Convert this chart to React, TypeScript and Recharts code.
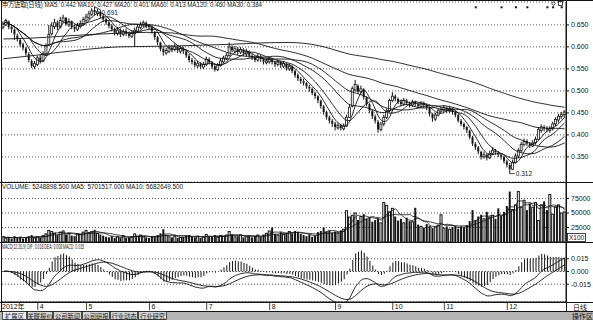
import React from "react";
import { ComposedChart, Bar, Line, XAxis, YAxis, CartesianGrid } from "recharts";

// daily bars, mid-March .. end of December 2012, prices in 1/1000
const opens = [
  645, 650, 658, 646, 640, 626, 616, 606, 597, 584, 568, 555, 560, 576, 568, 584, 604, 630, 646, 656,
  645, 658, 666, 650, 658, 646, 640, 646, 652, 660, 666, 674, 684, 676, 680, 670, 663, 656, 648, 640,
  630, 638, 628, 636, 630, 624, 630, 636, 644, 650, 655, 648, 645, 634, 622, 610, 596, 586, 590, 598,
  594, 600, 590, 596, 590, 580, 570, 566, 557, 562, 554, 560, 572, 565, 556, 548, 558, 566, 574, 580,
  600, 590, 596, 588, 594, 584, 590, 580, 576, 570, 578, 572, 564, 566, 572, 565, 560, 566, 556, 562,
  550, 556, 545, 536, 528, 522, 518, 510, 505, 495, 488, 478, 465, 452, 440, 432, 426, 416, 422, 414,
  420, 440, 465, 502, 512, 498, 504, 485, 470, 455, 442, 430, 412, 425, 440, 455, 478, 488, 482, 476,
  470, 478, 472, 468, 475, 470, 465, 472, 468, 462, 448, 436, 445, 454, 456, 462, 454, 460, 452, 445,
  432, 425, 418, 410, 395, 380, 372, 362, 350, 355, 348, 358, 365, 360, 355, 350, 340, 332, 322, 338,
  352, 364, 378, 386, 380, 375, 382, 390, 410, 418, 416, 410, 414, 425, 434, 442, 446,
];
const highs = [
  658, 664, 660, 650, 642, 630, 620, 610, 600, 588, 572, 568, 580, 582, 590, 608, 650, 656, 664, 660,
  668, 673, 668, 665, 660, 650, 655, 660, 668, 675, 682, 688, 691, 686, 684, 674, 666, 660, 652, 644,
  645, 642, 640, 642, 635, 638, 644, 652, 657, 660, 658, 652, 648, 636, 625, 612, 600, 598, 605, 604,
  608, 603, 602, 600, 594, 584, 575, 570, 568, 565, 566, 578, 576, 568, 560, 563, 574, 580, 586, 610,
  604, 602, 600, 600, 597, 596, 592, 584, 580, 584, 582, 575, 574, 578, 575, 568, 572, 568, 568, 565,
  562, 558, 548, 540, 532, 528, 520, 514, 508, 498, 490, 480, 468, 455, 444, 436, 430, 428, 425, 426,
  446, 470, 510, 525, 515, 512, 506, 488, 472, 458, 446, 434, 430, 446, 460, 482, 497, 492, 485, 480,
  484, 482, 476, 480, 478, 474, 477, 476, 470, 464, 450, 450, 460, 464, 468, 465, 466, 462, 455, 448,
  436, 428, 420, 412, 398, 384, 375, 364, 362, 358, 364, 372, 368, 363, 358, 353, 344, 336, 344, 358,
  370, 384, 392, 390, 384, 388, 396, 418, 424, 422, 420, 420, 430, 440, 448, 452, 456,
];
const lows = [
  640, 647, 640, 632, 616, 612, 600, 592, 580, 565, 552, 550, 556, 562, 565, 580, 602, 626, 640, 638,
  642, 654, 648, 645, 640, 634, 636, 642, 648, 656, 662, 670, 672, 670, 665, 656, 650, 642, 635, 626,
  626, 622, 624, 625, 620, 620, 600, 632, 640, 645, 642, 638, 630, 616, 604, 590, 580, 582, 586, 588,
  590, 586, 585, 584, 575, 565, 560, 553, 552, 550, 550, 556, 560, 550, 544, 545, 555, 563, 570, 578,
  588, 585, 582, 584, 580, 578, 575, 570, 565, 566, 566, 560, 560, 562, 560, 554, 556, 552, 552, 546,
  545, 540, 530, 522, 516, 512, 505, 498, 490, 482, 472, 460, 446, 435, 426, 418, 410, 412, 410, 410,
  418, 438, 462, 498, 494, 492, 480, 465, 450, 436, 426, 405, 408, 420, 436, 452, 474, 476, 470, 465,
  466, 468, 462, 464, 465, 460, 462, 462, 456, 442, 430, 432, 442, 450, 452, 450, 450, 446, 440, 428,
  420, 412, 404, 390, 375, 366, 356, 344, 346, 342, 345, 354, 355, 350, 344, 335, 326, 312, 320, 335,
  348, 360, 374, 375, 370, 372, 378, 388, 405, 408, 406, 405, 410, 420, 428, 436, 440,
];
const closes = [
  652, 660, 645, 640, 628, 618, 605, 598, 585, 570, 556, 562, 575, 568, 584, 602, 628, 648, 655, 645,
  660, 666, 652, 658, 645, 640, 648, 652, 662, 668, 675, 682, 678, 680, 670, 662, 655, 648, 640, 632,
  638, 628, 635, 630, 625, 632, 638, 645, 650, 655, 648, 645, 635, 622, 610, 595, 588, 592, 598, 595,
  600, 592, 596, 590, 580, 570, 565, 558, 562, 555, 560, 572, 565, 555, 548, 558, 568, 575, 580, 600,
  592, 596, 588, 594, 585, 590, 580, 575, 570, 578, 572, 566, 568, 572, 565, 560, 566, 558, 562, 552,
  556, 545, 535, 528, 522, 518, 510, 505, 495, 488, 478, 465, 452, 440, 432, 425, 418, 422, 415, 420,
  440, 462, 505, 515, 498, 505, 485, 470, 455, 442, 432, 412, 425, 440, 455, 478, 488, 482, 475, 470,
  478, 472, 468, 475, 470, 465, 472, 468, 462, 448, 438, 445, 455, 458, 462, 455, 460, 452, 445, 432,
  425, 418, 410, 395, 380, 372, 362, 350, 355, 348, 358, 365, 360, 355, 350, 340, 332, 322, 338, 352,
  365, 378, 385, 380, 375, 382, 390, 412, 418, 415, 412, 415, 425, 435, 442, 446, 452,
];
// volume in thousands (axis shows x100 units)
const volumesK = [
  9, 7, 8, 6, 10, 7, 9, 6, 8, 10, 12, 7, 9, 8, 11, 14, 20, 18, 15, 12,
  17, 19, 13, 15, 11, 10, 14, 13, 17, 20, 16, 18, 21, 15, 13, 11, 9, 8, 10, 7,
  9, 8, 11, 7, 8, 9, 14, 10, 12, 9, 8, 7, 10, 9, 12, 15, 22, 11, 9, 8,
  10, 7, 8, 9, 11, 12, 9, 8, 10, 7, 9, 13, 10, 9, 12, 8, 11, 10, 12, 18,
  13, 9, 10, 12, 8, 9, 11, 8, 10, 12, 9, 13, 15, 19, 25, 14, 12, 17, 13, 16,
  18, 15, 19, 17, 14, 12, 10, 13, 9, 11, 17, 19, 25, 18, 20, 16, 18, 15, 20, 22,
  54, 43, 46, 50, 38, 44, 48, 40, 42, 35, 38, 41, 33, 68, 63, 52, 58, 44, 37, 40,
  33, 42, 36, 35, 59, 30, 27, 25, 31, 28, 24, 26, 29, 47, 24, 27, 22, 26, 28, 23,
  27, 25, 29, 36, 55, 38, 44, 47, 40, 52, 43, 46, 40, 58, 45, 52, 62, 87, 56, 64,
  87, 60, 72, 55, 66, 60, 68, 37, 64, 70, 55, 82, 48, 60, 64, 50, 52,
];
// long averages before their window fills, read every 10 bars (1/1000)
const ma60Early = [618, 620, 624, 628, 631, 633];
const ma120Early = [573, 580, 588, 595, 600, 601, 602, 604, 606, 609, 610, 603];
const markerDays = [165, 174, 179, 183, 190, 192, 195];
const markerLevel = 0.69;

const monthStarts = [0, 12, 29, 51, 71, 93, 116, 136, 154, 176];
const monthLabels = ["2012年", "4", "5", "6", "7", "8", "9", "10", "11", "12"];
const priceTicks = [0.35, 0.4, 0.45, 0.5, 0.55, 0.6, 0.65];
const volTicks = [25000, 50000, 75000];
const macdTicks = [-0.015, 0, 0.015];
const tabs = ["扩展区", "关联报价", "公司新闻", "公司研报", "行业动态", "行业研究"];
const tabW = [25, 26, 29, 28, 28, 29];

const priceTitle = "申万进取(日线) MA5: 0.442 MA10: 0.427 MA20: 0.401 MA60: 0.413 MA120: 0.460 MA30: 0.384";
const volTitle = "VOLUME: 5248898.500 MA5: 5701517.000 MA10: 5682649.500";
const macdTitle = "MACD(12,26,9) DIF: 0.018 DEA: 0.008 MACD: 0.015";

const INK = "#141414";
const FONT = "'Liberation Sans', Arial, 'Noto Sans CJK SC', sans-serif";

function avgBack(arr: number[], n: number, i: number) {
  const s = Math.max(0, i - n + 1);
  let t = 0;
  for (let k = s; k <= i; k++) t += arr[k];
  return t / (i - s + 1);
}
function ema(arr: number[], n: number) {
  const out: number[] = [];
  arr.forEach((v, i) => out.push(i === 0 ? v : (2 * v + (n - 1) * out[i - 1]) / (n + 1)));
  return out;
}

const px = closes.map((v) => v / 1000);
const vol = volumesK.map((v) => v * 1000);
const ema12 = ema(px, 12);
const ema26 = ema(px, 26);
const dif = px.map((_, i) => ema12[i] - ema26[i]);
const dea = ema(dif, 9);
const peakIdx = highs.indexOf(Math.max(...highs));
const lowIdx = lows.indexOf(Math.min(...lows));

const rows = closes.map((c, i) => ({
  i,
  o: opens[i] / 1000,
  c: c / 1000,
  h: highs[i] / 1000,
  l: lows[i] / 1000,
  hl: [lows[i] / 1000, highs[i] / 1000],
  up: c >= opens[i],
  ma5: avgBack(px, 5, i),
  ma10: avgBack(px, 10, i),
  ma20: avgBack(px, 20, i),
  ma30: avgBack(px, 30, i),
  ma60: i >= 59 ? avgBack(px, 60, i) : i % 10 === 0 ? ma60Early[i / 10] / 1000 : null,
  ma120: i >= 119 ? avgBack(px, 120, i) : i % 10 === 0 ? ma120Early[i / 10] / 1000 : null,
  vol: vol[i],
  vma5: avgBack(vol, 5, i),
  vma10: avgBack(vol, 10, i),
  dif: dif[i],
  dea: dea[i],
  macd: 2 * (dif[i] - dea[i]),
  mark: markerDays.includes(i) ? markerLevel : null,
}));

function Candle(props: any) {
  const { x, y, width, height, payload } = props;
  if (!payload || y == null) return <g />;
  const { o, c, h, l, up, i } = payload;
  const span = h - l || 1e-6;
  const yOf = (v: number) => y + ((h - v) / span) * height;
  const cx = x + width / 2;
  const top = yOf(Math.max(o, c));
  const bh = Math.max(1, yOf(Math.min(o, c)) - top);
  return (
    <g>
      <line x1={cx} x2={cx} y1={y} y2={top} stroke={INK} strokeWidth={1} />
      <line x1={cx} x2={cx} y1={top + bh} y2={y + height} stroke={INK} strokeWidth={1} />
      <rect x={x} y={top} width={width} height={bh} fill={up ? "#fff" : INK} stroke={INK} strokeWidth={up ? 0.8 : 0} />
      {i === peakIdx && (
        <g>
          <line x1={cx} y1={y} x2={cx + 6} y2={y + 3} stroke={INK} strokeWidth={0.8} />
          <text x={cx + 7} y={y + 8} fontSize={6.5} fill={INK} fontFamily={FONT}>
            {h.toFixed(3)}
          </text>
        </g>
      )}
      {i === lowIdx && (
        <g>
          <line x1={cx} y1={y + height} x2={cx + 5} y2={y + height} stroke={INK} strokeWidth={0.8} />
          <text x={cx + 6} y={y + height + 2.5} fontSize={6.5} fill={INK} fontFamily={FONT}>
            {l.toFixed(3)}
          </text>
        </g>
      )}
    </g>
  );
}

function VolBar(props: any) {
  const { x, y, width, height, payload } = props;
  if (!payload || !height) return <g />;
  return (
    <rect
      x={x}
      y={y}
      width={width}
      height={height}
      fill={payload.up ? "#fff" : INK}
      stroke={INK}
      strokeWidth={payload.up ? 1 : 0}
    />
  );
}

function MarkDot(props: any) {
  const { cx, cy, payload } = props;
  if (!payload || payload.mark == null) return <g key={`m${props.index}`} />;
  return <rect key={`m${props.index}`} x={cx - 1} y={cy - 1} width={2} height={2} fill={INK} />;
}

function MonthTick(props: any) {
  const { x, y, payload } = props;
  const k = monthStarts.indexOf(payload.value);
  const label = monthLabels[k] ?? "";
  if (k === 0) {
    return (
      <text x={2} y={y + 7} fontSize={7} fill={INK} fontFamily={FONT}>
        {label}
      </text>
    );
  }
  return (
    <g>
      <line x1={x} x2={x} y1={y} y2={y + 8} stroke={INK} strokeWidth={0.8} />
      <text x={x + 2} y={y + 7} fontSize={7} fill={INK} fontFamily={FONT}>
        {label}
      </text>
    </g>
  );
}

const margin = { top: 0, right: 0, bottom: 0, left: 2 };
const yAxisCommon = {
  orientation: "right" as const,
  width: 27,
  tickSize: 3,
  tickMargin: 2,
  tick: { fontSize: 7, fill: INK, fontFamily: FONT },
  axisLine: { stroke: INK },
  tickLine: { stroke: INK },
  allowDataOverflow: true,
  interval: 0 as const,
};
const grid = <CartesianGrid vertical={false} stroke="#555" strokeDasharray="1 2" />;
const maLine = (key: string, sw = 0.9) => (
  <Line
    dataKey={key}
    type="monotone"
    stroke={INK}
    strokeWidth={sw}
    dot={false}
    connectNulls
    isAnimationActive={false}
  />
);

export default function App() {
  let tx = 2;
  return (
    <div
      style={{
        position: "absolute",
        left: 0,
        top: 0,
        width: 593,
        height: 320,
        background: "#fff",
        overflow: "hidden",
        fontFamily: FONT,
      }}
    >
      <div style={{ position: "absolute", left: 0, top: 0 }}>
        <ComposedChart width={593} height={182} data={rows} margin={{ ...margin, top: 2 }}>
          {grid}
          <XAxis dataKey="i" hide />
          <YAxis
            {...yAxisCommon}
            domain={[0.293, 0.702]}
            ticks={priceTicks}
            tickFormatter={(v: number) => v.toFixed(3)}
          />
          <Bar dataKey="hl" barSize={2} shape={(p: any) => <Candle {...p} />} isAnimationActive={false} />
          {maLine("ma5")}
          {maLine("ma10")}
          {maLine("ma20")}
          {maLine("ma30")}
          {maLine("ma60")}
          {maLine("ma120")}
          <Line dataKey="mark" stroke="none" dot={(p: any) => <MarkDot {...p} />} isAnimationActive={false} />
        </ComposedChart>
      </div>
      <div style={{ position: "absolute", left: 0, top: 182 }}>
        <ComposedChart width={593} height={60} data={rows} margin={margin}>
          {grid}
          <XAxis dataKey="i" hide />
          <YAxis {...yAxisCommon} domain={[0, 103448]} ticks={volTicks} tickFormatter={(v: number) => String(v)} />
          <Bar dataKey="vol" barSize={2} shape={(p: any) => <VolBar {...p} />} isAnimationActive={false} />
          {maLine("vma5", 0.8)}
          {maLine("vma10", 0.8)}
        </ComposedChart>
      </div>
      <div style={{ position: "absolute", left: 0, top: 242 }}>
        <ComposedChart width={593} height={69} data={rows} margin={margin}>
          {grid}
          <XAxis
            dataKey="i"
            height={9}
            ticks={monthStarts}
            interval={0}
            tickSize={0}
            tickMargin={0}
            tickLine={false}
            axisLine={{ stroke: INK }}
            tick={(p: any) => <MonthTick {...p} />}
          />
          <YAxis
            {...yAxisCommon}
            domain={[-0.036, 0.0348]}
            ticks={macdTicks}
            tickFormatter={(v: number) => v.toFixed(3)}
          />
          <Bar dataKey="macd" barSize={1} fill={INK} isAnimationActive={false} />
          {maLine("dif", 0.9)}
          {maLine("dea", 0.9)}
        </ComposedChart>
      </div>

      <svg
        width={593}
        height={320}
        style={{ position: "absolute", left: 0, top: 0, pointerEvents: "none" }}
        fontFamily={FONT}
      >
        <line x1={0} x2={593} y1={0.5} y2={0.5} stroke={INK} />
        <line x1={1.5} x2={1.5} y1={0} y2={311} stroke={INK} />
        <line x1={566.5} x2={566.5} y1={0} y2={311} stroke={INK} />
        <line x1={0} x2={593} y1={182.5} y2={182.5} stroke={INK} />
        <line x1={0} x2={593} y1={242.5} y2={242.5} stroke={INK} />
        <line x1={0} x2={593} y1={302.5} y2={302.5} stroke={INK} />

        <text x={2} y={7} fontSize={7} fill={INK} textLength={260} lengthAdjust="spacingAndGlyphs">
          {priceTitle}
        </text>
        <text x={2} y={189} fontSize={7} fill={INK} textLength={181} lengthAdjust="spacingAndGlyphs">
          {volTitle}
        </text>
        <text x={2} y={249} fontSize={6.5} fill={INK} textLength={82} lengthAdjust="spacingAndGlyphs">
          {macdTitle}
        </text>

        <circle cx={553.5} cy={3.5} r={1.6} fill="none" stroke={INK} strokeWidth={0.8} />
        <rect x={558.5} y={1.5} width={4} height={4} fill="none" stroke={INK} strokeWidth={0.8} />

        <rect x={567.5} y={233.5} width={18} height={8} fill="#fff" stroke={INK} strokeWidth={0.8} />
        <text x={569} y={240} fontSize={6.5} fill={INK}>
          X100
        </text>

        <rect x={0} y={311} width={593} height={9} fill="#b4b4b4" />
        <line x1={0} x2={593} y1={311.5} y2={311.5} stroke={INK} />
        {tabs.map((t, k) => {
          const x0 = tx;
          tx += tabW[k];
          return (
            <g key={t}>
              <rect x={x0 + 0.5} y={311.5} width={tabW[k] - 1} height={8} fill={k === 0 ? "#eee" : "#d6d6d6"} stroke={INK} strokeWidth={0.7} />
              <text x={x0 + tabW[k] / 2} y={318.5} fontSize={6.3} textAnchor="middle" fill={INK}>
                {t}
              </text>
            </g>
          );
        })}
        <rect x={567} y={303} width={26} height={8} fill="#fff" />
        <text x={573} y={310} fontSize={7} fill={INK}>
          日线
        </text>
        <text x={572} y={319} fontSize={7} fill={INK}>
          操作区
        </text>
      </svg>
    </div>
  );
}
